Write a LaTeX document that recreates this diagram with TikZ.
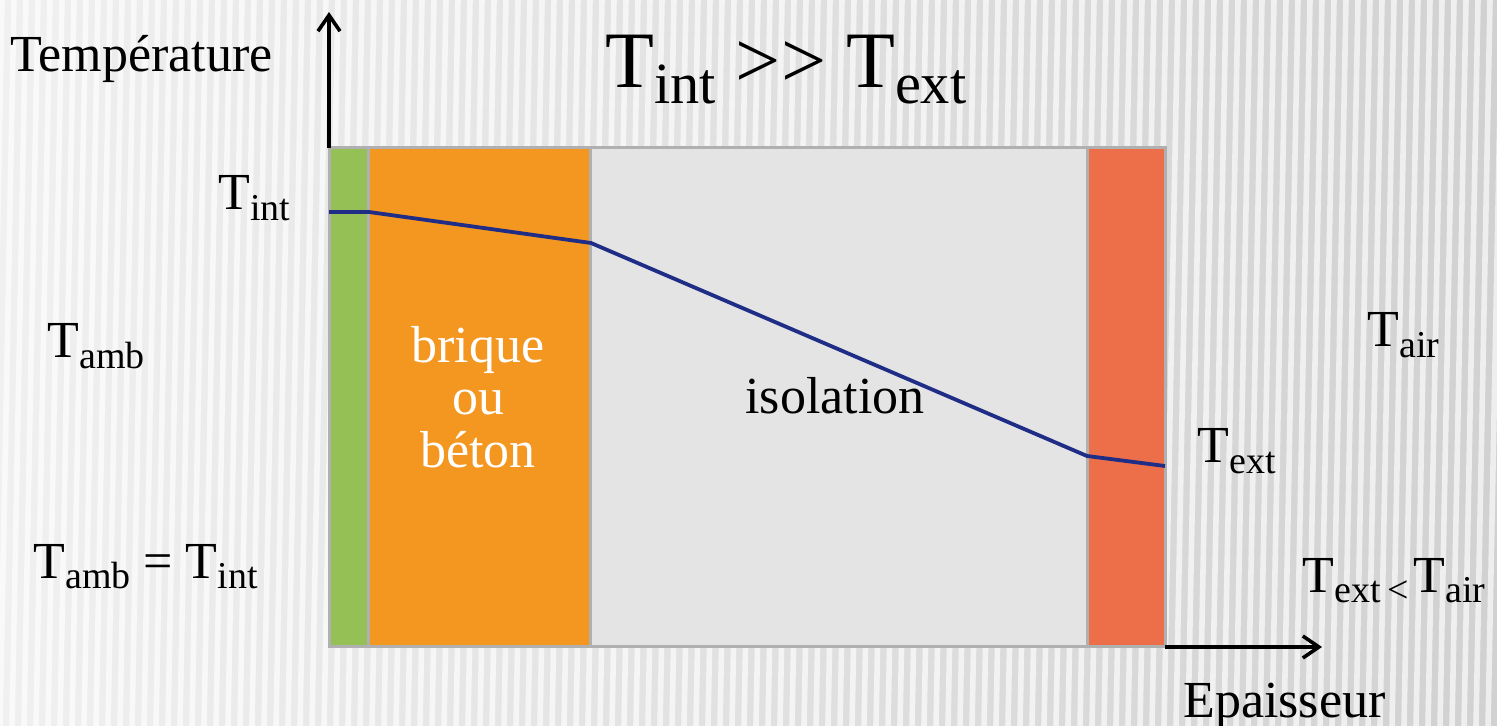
\documentclass[tikz,border=0pt]{standalone}
\usepackage{fontspec}
\setmainfont{Liberation Serif}
\usepackage{graphicx}
\usetikzlibrary{arrows.meta}
\definecolor{wallgreen}{HTML}{95C055}
\definecolor{wallorange}{HTML}{F39720}
\definecolor{wallgray}{HTML}{E3E4E3}
\definecolor{wallred}{HTML}{EC6F4A}
\definecolor{wallborder}{HTML}{B0B0B0}
\definecolor{tempblue}{HTML}{1F2D87}
\newcommand\lowtxt[1]{\raisebox{-0.2em}{\scalebox{0.73}{#1}}}
\begin{document}
\begin{tikzpicture}[x=0.5pt,y=-0.5pt,
  lbl/.style={font=\fontsize{26}{30}\selectfont, inner sep=0pt, anchor=base west, text=black},
  inlbl/.style={font=\fontsize{26}{30}\selectfont, inner sep=0pt, anchor=base},
  layer/.style={draw=wallborder, line width=1.5pt},
  axis/.style={line width=1.8pt, -{Straight Barb[length=8pt,width=11pt]}},
  profile/.style={draw=tempblue, line width=1.9pt, line join=round}]
\useasboundingbox (0,0) rectangle (1497,726);
% background
\shade[left color=black!6, right color=black!18] (0,0) rectangle (1497,726);
\foreach \x in {-24,-12,...,1500} {
  \draw[white, opacity=0.65, line width=2.8pt] (\x+14,0) -- (\x,726);
}
% wall layers
\coordinate (g1) at (329,148); \coordinate (g2) at (368,646);
\coordinate (o1) at (368,148); \coordinate (o2) at (590.5,646);
\coordinate (i1) at (590.5,148); \coordinate (i2) at (1087.5,646);
\coordinate (r1) at (1087.5,148); \coordinate (r2) at (1165,646);
\filldraw[layer, fill=wallgreen] (g1) rectangle (g2);
\filldraw[layer, fill=wallorange] (o1) rectangle (o2);
\filldraw[layer, fill=wallgray] (i1) rectangle (i2);
\filldraw[layer, fill=wallred] (r1) rectangle (r2);
% axes
\coordinate (ytop) at (329,12);
\coordinate (xend) at (1322,647);
\coordinate (xstart) at (1165,647);
\draw[axis] (g1) -- (ytop);
\draw[axis] (xstart) -- (xend);
% temperature profile
\coordinate (p0) at (329,212);
\coordinate (p1) at (369,212);
\coordinate (p2) at (591,243);
\coordinate (p3) at (1087,456);
\coordinate (p4) at (1165,466);
\draw[profile] (p0) -- (p1) -- (p2) -- (p3) -- (p4);
% labels
\node[lbl] (temp) at (10,72) {Température};
\node[lbl, font=\fontsize{40}{46}\selectfont] (title) at (605,88) {T\lowtxt{int} >\kern0pt> T\lowtxt{ext}};
\node[lbl] (tint) at (218,210) {T\lowtxt{int}};
\node[lbl] (tamb) at (47,358) {T\lowtxt{amb}};
\node[lbl] (tambeq) at (33,578) {T\lowtxt{amb} = T\lowtxt{int}};
\node[lbl] (tair) at (1367,347) {T\lowtxt{air}};
\node[lbl] (text) at (1197,463) {T\lowtxt{ext}};
\node[lbl] (textlt) at (1302,592) {T\lowtxt{ext\kern5pt<\kern3pt}T\lowtxt{air}};
\node[lbl] (epais) at (1183,717) {Epaisseur};
\node[inlbl, text=white] (b1) at (478,363) {brique};
\node[inlbl, text=white] (b2) at (478,415) {ou};
\node[inlbl, text=white] (b3) at (478,467) {béton};
\node[lbl] (iso) at (745,414) {isolation};
\end{tikzpicture}
\end{document}
